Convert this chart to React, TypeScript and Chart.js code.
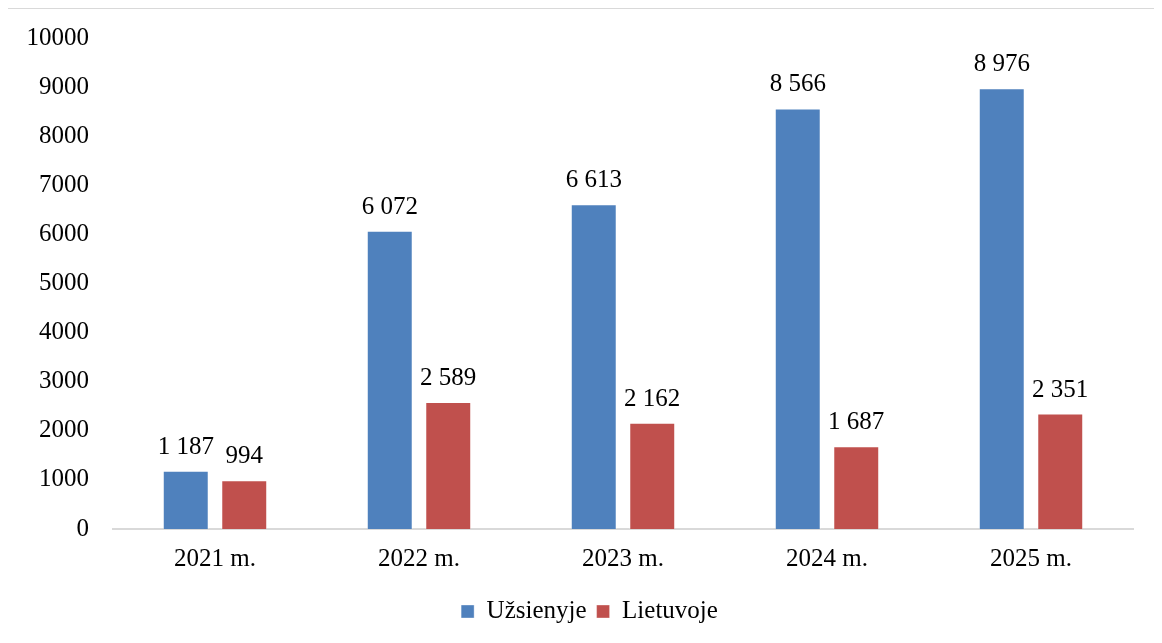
import React, { useEffect, useRef } from "react";
import { Chart, registerables } from "chart.js";

Chart.register(...registerables);

const categories = ["2021 m.", "2022 m.", "2023 m.", "2024 m.", "2025 m."];
const abroadValues = [1187, 6072, 6613, 8566, 8976];
const lithuaniaValues = [994, 2589, 2162, 1687, 2351];
const seriesNames = ["Užsienyje", "Lietuvoje"];
const yMax = 10000;
const yStep = 1000;

const FONT = "'Liberation Serif', 'DejaVu Serif', serif";

const fmt = (v: number) => {
  const s = String(Math.round(v));
  return s.replace(/\B(?=(\d{3})+(?!\d))/g, " ");
};

const valueLabels = {
  id: "valueLabels",
  afterDatasetsDraw(chart: any) {
    const ctx = chart.ctx;
    ctx.save();
    ctx.font = `25px ${FONT}`;
    ctx.fillStyle = "#000";
    ctx.textAlign = "center";
    ctx.textBaseline = "alphabetic";
    chart.data.datasets.forEach((ds: any, i: number) => {
      const meta = chart.getDatasetMeta(i);
      meta.data.forEach((el: any, j: number) => {
        ctx.fillText(fmt(ds.data[j]), el.x, el.y - 17);
      });
    });
    ctx.restore();
  },
};

const legendShift = {
  id: "legendShift",
  afterLayout(chart: any) {
    if (chart.legend) {
      chart.legend.left += 19;
      chart.legend.right += 19;
    }
  },
};

export default function App() {
  const ref = useRef<HTMLCanvasElement | null>(null);
  useEffect(() => {
    if (!ref.current) return;
    const chart = new Chart(ref.current, {
      type: "bar",
      data: {
        labels: categories,
        datasets: [
          {
            label: seriesNames[0],
            data: abroadValues,
            backgroundColor: "#4F81BD",
            borderColor: "rgba(255,255,255,0.35)",
            borderWidth: 1,
            categoryPercentage: 0.5735,
            barPercentage: 0.786,
          },
          {
            label: seriesNames[1],
            data: lithuaniaValues,
            backgroundColor: "#C0504D",
            borderColor: "rgba(255,255,255,0.35)",
            borderWidth: 1,
            categoryPercentage: 0.5735,
            barPercentage: 0.786,
          },
        ],
      },
      options: {
        animation: false,
        responsive: false,
        maintainAspectRatio: false,
        layout: { padding: { left: 0, right: 28, top: 0, bottom: 20 } },
        plugins: {
          tooltip: { enabled: false },
          legend: {
            position: "bottom",
            labels: {
              color: "#000",
              font: { family: FONT, size: 25 },
              boxWidth: 13,
              boxHeight: 13,
              padding: 10,
            },
          },
        },
        scales: {
          x: {
            grid: { display: false, drawTicks: false },
            border: { display: true, color: "#d9d9d9", width: 2 },
            ticks: { color: "#000", font: { family: FONT, size: 25 }, padding: 15 },
          },
          y: {
            min: 0,
            max: yMax,
            grid: { display: false, drawTicks: false },
            border: { display: false },
            afterFit: (scale: any) => {
              scale.width = 105;
              scale.paddingTop = 29;
              scale.paddingBottom = 0;
            },
            ticks: {
              stepSize: yStep,
              color: "#000",
              font: { family: FONT, size: 25 },
              padding: 24,
              callback: (v: any) => String(v),
            },
          },
        },
      },
      plugins: [valueLabels, legendShift],
    });
    return () => chart.destroy();
  }, []);
  return (
    <div
      style={{
        marginLeft: -1,
        width: 1153,
        height: 645,
        border: "1px solid #d9d9d9",
        background: "#fff",
      }}
    >
      <canvas ref={ref} width={1153} height={645} style={{ display: "block" }} />
    </div>
  );
}
